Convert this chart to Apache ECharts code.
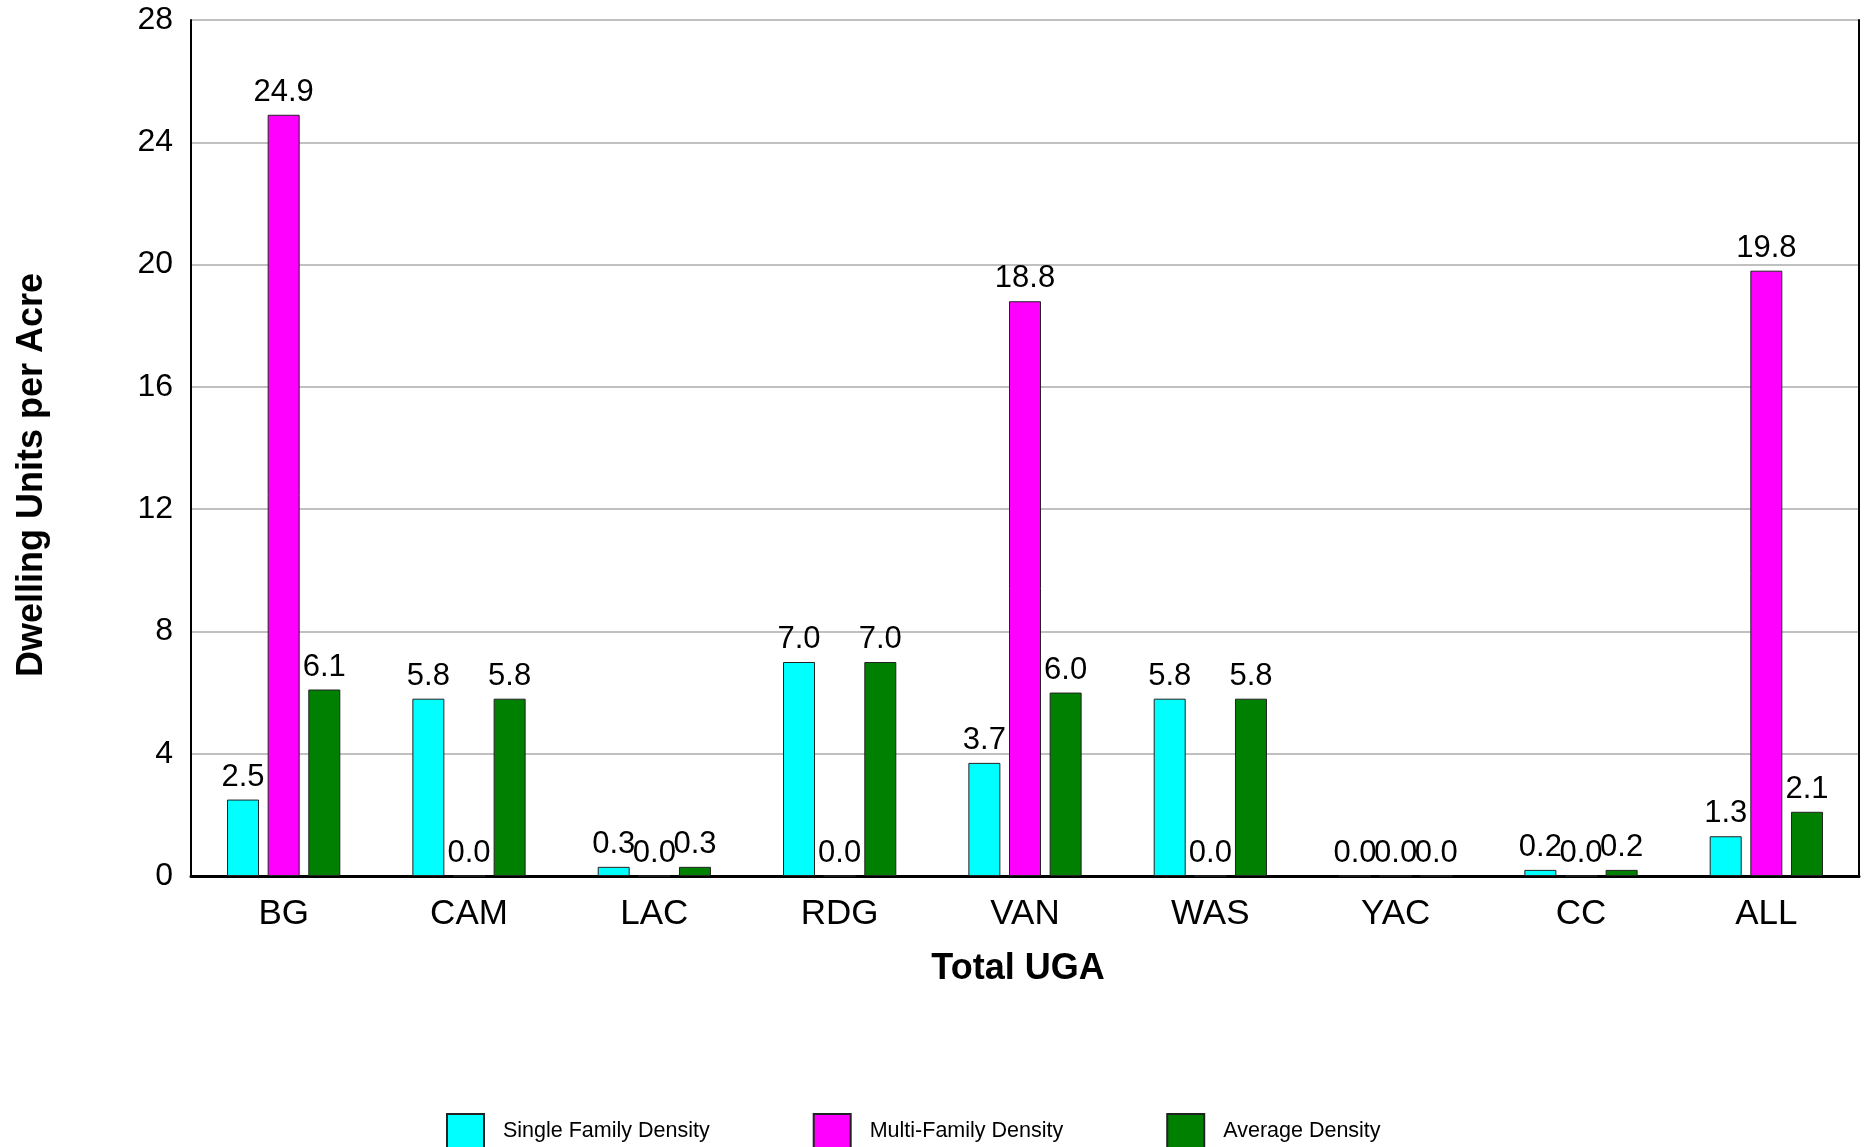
<!DOCTYPE html>
<html>
<head>
<meta charset="utf-8">
<title>Dwelling Units per Acre - Total UGA</title>
<script src="https://cdn.jsdelivr.net/npm/echarts@6/dist/echarts.min.js"></script>
<style>
  html, body { margin: 0; padding: 0; background: #fff; }
  #chart { width: 1872px; height: 1147px; }
</style>
</head>
<body>
<div id="chart"></div>
<script>
// data
var categories = ['BG', 'CAM', 'LAC', 'RDG', 'VAN', 'WAS', 'YAC', 'CC', 'ALL'];
var singleFamily = [2.5, 5.8, 0.3, 7.0, 3.7, 5.8, 0.0, 0.2, 1.3];
var multiFamily = [24.9, 0.0, 0.0, 0.0, 18.8, 0.0, 0.0, 0.0, 19.8];
var averageDensity = [6.1, 5.8, 0.3, 7.0, 6.0, 5.8, 0.0, 0.2, 2.1];
var seriesNames = ['Single Family Density', 'Multi-Family Density', 'Average Density'];
var seriesColors = ['#00ffff', '#ff00ff', '#008000'];

var font = '"Liberation Sans", Arial, sans-serif';

function barSeries(name, data, color) {
    return {
        name: name,
        type: 'bar',
        data: data,
        barWidth: 32,
        barGap: '27%',
        itemStyle: { color: color, borderColor: '#222', borderWidth: 1 },
        label: {
            show: true,
            position: 'top',
            distance: 7,
            color: '#000',
            fontFamily: font,
            fontSize: 31,
            formatter: function (p) { return p.value.toFixed(1); }
        }
    };
}

var option = {
    animation: false,
    backgroundColor: '#fff',
    color: seriesColors,
    grid: { left: 191, right: 13, top: 20, bottom: 271 },
    legend: {
        left: 446,
        top: 1113,
        padding: 0,
        icon: 'rect',
        itemWidth: 37,
        itemHeight: 34,
        itemGap: 103,
        textStyle: { fontFamily: font, fontSize: 21.5, color: '#000', padding: [0, 0, 0, 14] },
        data: seriesNames
    },
    xAxis: {
        type: 'category',
        data: categories,
        axisLine: { lineStyle: { color: '#000', width: 3 } },
        axisTick: { show: false },
        axisLabel: { color: '#000', fontFamily: font, fontSize: 35, margin: 21 }
    },
    yAxis: [
        {
            type: 'value',
            min: 0,
            max: 28,
            interval: 4,
            axisLine: { show: true, lineStyle: { color: '#000', width: 2 } },
            axisTick: { show: false },
            axisLabel: { color: '#000', fontFamily: font, fontSize: 32, margin: 18 },
            splitLine: { lineStyle: { color: '#c0c0c0', width: 2 } }
        },
        {
            type: 'value',
            position: 'right',
            min: 0,
            max: 28,
            interval: 4,
            axisLine: { show: true, lineStyle: { color: '#000', width: 2 } },
            axisTick: { show: false },
            axisLabel: { show: false },
            splitLine: { show: false }
        }
    ],
    graphic: [
        {
            type: 'text',
            x: 32,
            y: 475,
            rotation: Math.PI / 2,
            style: {
                text: 'Dwelling Units per Acre',
                fontFamily: font,
                fontSize: 36,
                fontWeight: 'bold',
                fill: '#000',
                align: 'center',
                verticalAlign: 'middle'
            }
        },
        {
            type: 'text',
            x: 1018,
            y: 969,
            style: {
                text: 'Total UGA',
                fontFamily: font,
                fontSize: 36,
                fontWeight: 'bold',
                fill: '#000',
                align: 'center',
                verticalAlign: 'middle'
            }
        }
    ],
    series: [
        barSeries(seriesNames[0], singleFamily, seriesColors[0]),
        barSeries(seriesNames[1], multiFamily, seriesColors[1]),
        barSeries(seriesNames[2], averageDensity, seriesColors[2])
    ]
};

var myChart = echarts.init(document.getElementById('chart'));
myChart.setOption(option);
</script>
</body>
</html>
